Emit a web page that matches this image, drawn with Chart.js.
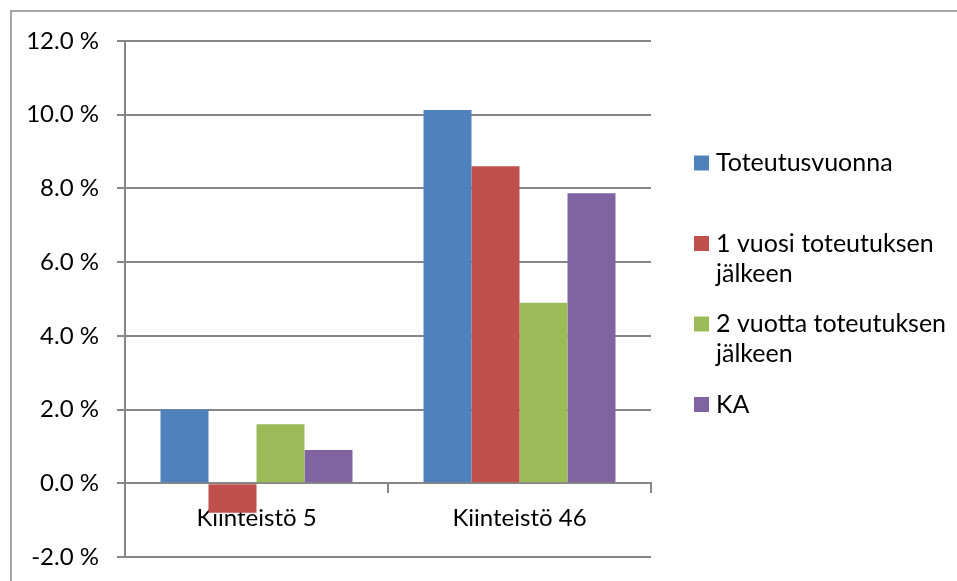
<!DOCTYPE html>
<html><head><meta charset="utf-8">
<script src="https://cdn.jsdelivr.net/npm/chart.js@4.4.1/dist/chart.umd.min.js"></script>
<style>html,body{margin:0;padding:0;background:#fff;}#wrap{width:957px;height:581px;}</style>
</head><body><div id="wrap"><canvas id="c" width="957" height="581"></canvas></div>
<script>
const categories = ['Kiinteistö 5', 'Kiinteistö 46'];
const seriesLabels = ['Toteutusvuonna', '1 vuosi toteutuksen jälkeen', '2 vuotta toteutuksen jälkeen', 'KA'];
const toteutusvuonna = [2.0, 10.13];
const vuosi1 = [-0.8, 8.6];
const vuotta2 = [1.6, 4.9];
const ka = [0.9, 7.87];
const seriesColors = ['#4F81BD', '#C0504D', '#9BBB59', '#8064A2'];
const yMin = -2, yMax = 12, yStep = 2;

const FONT = 'Lato';
const FS = 24;
const LFS = 25;
const gridColor = '#868686';

const seriesValues = [toteutusvuonna, vuosi1, vuotta2, ka];

const framePlugin = {
  id: 'frame',
  beforeDraw(chart) {
    const ctx = chart.ctx;
    ctx.save();
    ctx.fillStyle = '#fff';
    ctx.fillRect(0, 0, chart.width, chart.height);
    ctx.strokeStyle = '#a6a6a6';
    ctx.lineWidth = 2;
    ctx.strokeRect(11, 11, chart.width + 20, chart.height + 20);
    ctx.restore();
  }
};

const legendPlugin = {
  id: 'customLegend',
  afterDraw(chart) {
    const ctx = chart.ctx;
    ctx.save();
    ctx.font = LFS + 'px ' + FONT;
    ctx.textBaseline = 'middle';
    const boxX = 694, boxSize = 15, textX = 716, maxW = 238;
    const startY = 163, itemStep = 80.5, lineH = 30;
    chart.data.datasets.forEach((ds, i) => {
      const cy = startY + i * itemStep;
      ctx.fillStyle = ds.backgroundColor;
      ctx.fillRect(boxX, cy - boxSize / 2, boxSize, boxSize);
      const words = ds.label.split(' ');
      const lines = [];
      let cur = '';
      words.forEach(w => {
        const t = cur ? cur + ' ' + w : w;
        if (ctx.measureText(t).width > maxW && cur) { lines.push(cur); cur = w; }
        else cur = t;
      });
      if (cur) lines.push(cur);
      ctx.fillStyle = '#000';
      lines.forEach((ln, j) => ctx.fillText(ln, textX, cy + j * lineH));
    });
    ctx.restore();
  }
};

new Chart(document.getElementById('c'), {
  type: 'bar',
  data: {
    labels: categories,
    datasets: seriesLabels.map((lab, i) => ({
      label: lab,
      data: seriesValues[i],
      backgroundColor: seriesColors[i],
      borderWidth: 0,
      barPercentage: 1.0,
      categoryPercentage: 0.73
    }))
  },
  options: {
    responsive: false,
    devicePixelRatio: 1,
    animation: false,
    layout: { padding: { top: 41, right: 306, bottom: 24, left: 0 } },
    plugins: { legend: { display: false }, tooltip: { enabled: false } },
    scales: {
      x: {
        type: 'category',
        position: { y: 0 },
        offset: true,
        afterFit(scale) { scale.height = 0; scale.paddingLeft = 0; scale.paddingRight = 0; },
        grid: { display: true, offset: true, drawOnChartArea: false, drawTicks: true, tickLength: 9, color: gridColor, lineWidth: 2 },
        border: { display: true, color: gridColor, width: 2 },
        ticks: { font: { family: FONT, size: FS }, color: '#000', padding: 12, maxRotation: 0 }
      },
      y: {
        min: yMin, max: yMax,
        afterFit(scale) { scale.width = 125; scale.paddingTop = 0; scale.paddingBottom = 0; },
        grid: { color: gridColor, lineWidth: 2, tickLength: 8 },
        border: { display: true, color: gridColor, width: 2 },
        ticks: {
          stepSize: yStep,
          font: { family: FONT, size: FS },
          color: '#000',
          padding: 18,
          callback: v => v.toFixed(1) + ' %'
        }
      }
    }
  },
  plugins: [framePlugin, legendPlugin]
});
</script>
</body></html>
